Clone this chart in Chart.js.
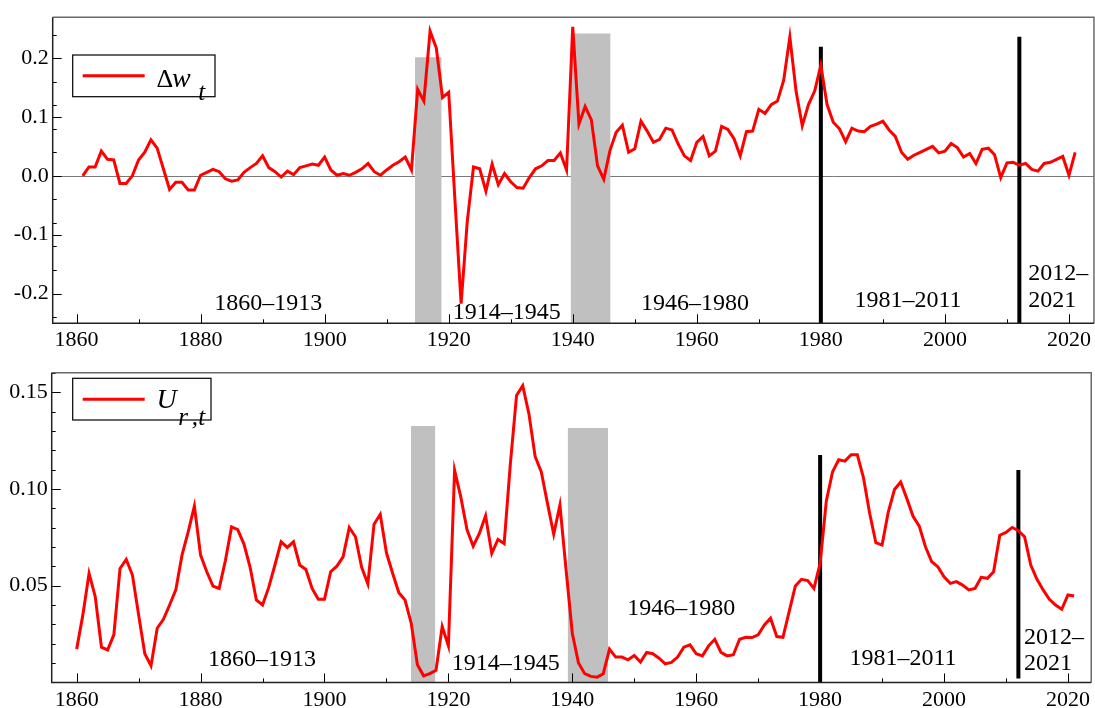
<!DOCTYPE html>
<html><head><meta charset="utf-8">
<script src="https://cdn.jsdelivr.net/npm/chart.js@4.4.1/dist/chart.umd.min.js"></script>
<style>html,body{margin:0;padding:0;background:#fff;}canvas{display:block;}</style>
</head><body>
<canvas id="cTop" width="1095" height="354"></canvas>
<canvas id="cBot" width="1095" height="354"></canvas>
<script>
// ---------------- DATA ----------------
const FIRST_YEAR_DW = 1861;
const dwValues = [
 0.000,0.015,0.015,0.042,0.028,0.027,-0.013,-0.013,0.000,0.027,   // 1861-1870
 0.040,0.061,0.047,0.012,-0.023,-0.011,-0.011,-0.024,-0.024,0.001, // 1871-1880
 0.006,0.011,0.007,-0.005,-0.009,-0.007,0.006,0.014,0.021,0.034,   // 1881-1890
 0.014,0.007,-0.002,0.008,0.002,0.014,0.017,0.020,0.018,0.032,     // 1891-1900
 0.010,0.001,0.004,0.001,0.006,0.012,0.021,0.007,0.001,0.010,      // 1901-1910
 0.018,0.024,0.032,0.010,0.147,0.127,0.246,0.217,0.133,0.142,      // 1911-1920
 -0.040,-0.217,-0.077,0.015,0.012,-0.026,0.020,-0.015,0.004,-0.010,// 1921-1930
 -0.020,-0.021,-0.003,0.012,0.017,0.026,0.026,0.039,0.010,0.253,   // 1931-1940
 0.088,0.118,0.095,0.017,-0.006,0.043,0.074,0.086,0.040,0.046,     // 1941-1950
 0.093,0.076,0.057,0.062,0.081,0.078,0.054,0.034,0.026,0.057,      // 1951-1960
 0.067,0.034,0.042,0.084,0.079,0.063,0.034,0.075,0.076,0.113,      // 1961-1970
 0.106,0.121,0.127,0.162,0.236,0.144,0.085,0.121,0.144,0.188,      // 1971-1980
 0.121,0.091,0.080,0.058,0.081,0.076,0.075,0.084,0.088,0.093,      // 1981-1990
 0.078,0.067,0.040,0.028,0.035,0.040,0.045,0.050,0.039,0.042,      // 1991-2000
 0.055,0.048,0.032,0.038,0.021,0.045,0.047,0.036,-0.003,0.022,     // 2001-2010
 0.023,0.018,0.021,0.011,0.008,0.021,0.023,0.028,0.033,0.001,      // 2011-2020
 0.040                                                             // 2021
];
const FIRST_YEAR_UR = 1860;
const urValues = [
 0.0172,0.0349,0.0564,0.0443,0.0182,0.0168,0.0246,0.0589,0.0636,0.0555, // 1860-1869
 0.0349,0.0148,0.0086,0.0280,0.0326,0.0400,0.0478,0.0658,0.0778,0.0911, // 1870-1879
 0.0658,0.0572,0.0498,0.0486,0.0629,0.0804,0.0790,0.0715,0.0595,0.0426, // 1880-1889
 0.0400,0.0491,0.0607,0.0727,0.0698,0.0727,0.0607,0.0584,0.0486,0.0430, // 1890-1899
 0.0430,0.0572,0.0601,0.0649,0.0801,0.0753,0.0595,0.0509,0.0818,0.0869, // 1900-1909
 0.0670,0.0564,0.0464,0.0426,0.0306,0.0091,0.0034,0.0045,0.0062,0.0289, // 1910-1919
 0.0189,0.1096,0.0959,0.0790,0.0704,0.0770,0.0861,0.0667,0.0739,0.0718, // 1920-1929
 0.1130,0.1483,0.1534,0.1388,0.1168,0.1088,0.0924,0.0766,0.0916,0.0581, // 1930-1939
 0.0254,0.0100,0.0045,0.0031,0.0027,0.0045,0.0172,0.0131,0.0131,0.0117, // 1940-1949
 0.0139,0.0105,0.0155,0.0148,0.0125,0.0096,0.0103,0.0131,0.0182,0.0194, // 1950-1959
 0.0148,0.0137,0.0189,0.0223,0.0155,0.0137,0.0143,0.0223,0.0233,0.0232, // 1960-1969
 0.0246,0.0297,0.0332,0.0237,0.0233,0.0366,0.0498,0.0533,0.0526,0.0486, // 1970-1979
 0.0615,0.0938,0.1088,0.1151,0.1144,0.1177,0.1177,0.1058,0.0873,0.0722, // 1980-1989
 0.0710,0.0881,0.0997,0.1036,0.0950,0.0859,0.0808,0.0701,0.0624,0.0598, // 1990-1999
 0.0546,0.0512,0.0521,0.0503,0.0478,0.0486,0.0543,0.0538,0.0572,0.0761, // 2000-2009
 0.0775,0.0801,0.0784,0.0753,0.0607,0.0533,0.0478,0.0430,0.0400,0.0378, // 2010-2019
 0.0452,0.0447                                                          // 2020-2021
];
const yearsDw = dwValues.map((_, i) => FIRST_YEAR_DW + i);
const yearsUr = urValues.map((_, i) => FIRST_YEAR_UR + i);

// grey war bands (start year, end year, height)
const shadeStartsDw = [1914.57, 1939.65];
const shadeEndsDw   = [1918.87, 1946.10];
const shadeTopsDw   = [0.2013, 0.2416];
const shadeStartsUr = [1913.95, 1939.25];
const shadeEndsUr   = [1917.90, 1945.78];
const shadeTopsUr   = [0.1326, 0.1315];
// black break lines
const breakYears     = [1980, 2012];
const breakTopsDw    = [0.2193, 0.2361];
const breakTopsUr    = [0.1176, 0.1098];
const breakBottomsUr = [0, 0.002];
// axis ranges
const dwRange = [-0.2505, 0.2695];
const urRange = [0, 0.1601];
const xRangeDw = [1856.16, 2024.03];
const xRangeUr = [1855.97, 2023.76];
// period labels
const periodLabels = ['1860\u20131913', '1914\u20131945', '1946\u20131980', '1981\u20132011', '2012\u2013', '2021'];
const periodAlign  = ['center', 'center', 'center', 'center', 'left', 'left'];
const periodPosDw = [[1890.92,-0.2169],[1929.35,-0.2329],[1959.71,-0.2169],[1994.05,-0.2114],[2013.44,-0.1666],[2013.44,-0.2114]];
const periodPosUr = [[1889.90,0.01184],[1929.24,0.00988],[1957.57,0.03831],[1993.37,0.01246],[2012.92,0.02296],[2012.92,0.00988]];

// ---------------- HELPERS ----------------
const SERIF = '"Liberation Serif", "Times New Roman", serif';
const RED = '#ff0000';
const GREY = '#c0c0c0';

function buildDatasets(label, years, values, sS, sE, sT, bTops, bBots, yMin) {
  const ds = [{
    label: label,
    data: years.map((x, i) => ({x: x, y: values[i]})),
    borderColor: RED, borderWidth: 3, pointRadius: 0, tension: 0, fill: false
  }];
  breakYears.forEach((yr, i) => {
    ds.push({
      label: 'break' + i,
      data: [{x: yr, y: bBots ? bBots[i] : yMin}, {x: yr, y: bTops[i]}],
      borderColor: '#000', borderWidth: 4, pointRadius: 0, fill: false, borderCapStyle: 'butt'
    });
  });
  sS.forEach((s, i) => {
    ds.push({
      label: 'shade' + i,
      data: [{x: s, y: sT[i]}, {x: sE[i], y: sT[i]}],
      borderWidth: 0, borderColor: 'rgba(0,0,0,0)', backgroundColor: GREY,
      pointRadius: 0, fill: 'start'
    });
  });
  return ds;
}

function decor(cfg) {
  return {
    id: 'decor' + cfg.name,
    beforeDatasetsDraw(chart) {
      if (!cfg.zeroLine) return;
      const {ctx, chartArea: a} = chart;
      const y = chart.scales.y;
      const py = Math.round(y.getPixelForValue(0)) + 0.5;
      ctx.save();
      ctx.strokeStyle = '#7a7a7a'; ctx.lineWidth = 1;
      ctx.beginPath(); ctx.moveTo(a.left, py); ctx.lineTo(a.right, py); ctx.stroke();
      ctx.restore();
    },
    afterDatasetsDraw(chart) {
      const {ctx, chartArea: a} = chart;
      const x = chart.scales.x, y = chart.scales.y;
      ctx.save();
      // period labels
      ctx.fillStyle = '#000';
      ctx.font = '24px ' + SERIF;
      ctx.textBaseline = 'middle';
      periodLabels.forEach((t, i) => {
        ctx.textAlign = periodAlign[i];
        ctx.fillText(t, x.getPixelForValue(cfg.pos[i][0]), y.getPixelForValue(cfg.pos[i][1]));
      });
      // legend box
      const L = cfg.legend;
      ctx.fillStyle = '#fff';
      ctx.fillRect(L.x, L.y, L.w, L.h);
      ctx.strokeStyle = '#000'; ctx.lineWidth = 1.2;
      ctx.strokeRect(L.x, L.y, L.w, L.h);
      ctx.strokeStyle = RED; ctx.lineWidth = 3;
      ctx.beginPath(); ctx.moveTo(L.x + 10, L.y + L.lineY); ctx.lineTo(L.x + 72, L.y + L.lineY); ctx.stroke();
      ctx.fillStyle = '#000'; ctx.textAlign = 'left'; ctx.textBaseline = 'alphabetic';
      L.parts.forEach(p => {
        ctx.font = p.font + ' ' + SERIF;
        ctx.fillText(p.t, p.x, p.y);
      });
      // inward ticks
      ctx.strokeStyle = '#000'; ctx.lineWidth = 1;
      ctx.beginPath();
      x.ticks.forEach(t => {
        const px = Math.round(x.getPixelForValue(t.value)) + 0.5;
        const len = (Math.round(t.value) % 20 === 0) ? 9 : 4;
        ctx.moveTo(px, a.bottom); ctx.lineTo(px, a.bottom - len);
      });
      y.ticks.forEach(t => {
        if (Math.abs(t.value - y.min) < 1e-9) return;
        const py = Math.round(y.getPixelForValue(t.value)) + 0.5;
        ctx.moveTo(a.left, py); ctx.lineTo(a.left + 9, py);
      });
      for (let k = Math.ceil(y.min / cfg.yMinor - 1e-9); k * cfg.yMinor <= y.max + 1e-9; k++) {
        const v = k * cfg.yMinor;
        if (Math.abs(v - y.min) < 1e-9) continue;
        const py = Math.round(y.getPixelForValue(v)) + 0.5;
        ctx.moveTo(a.left, py); ctx.lineTo(a.left + 4, py);
      }
      ctx.stroke();
      // frame
      ctx.lineWidth = 1.5;
      ctx.strokeStyle = '#6a6a6a';
      ctx.beginPath();
      ctx.moveTo(a.left, a.top); ctx.lineTo(a.right, a.top); ctx.lineTo(a.right, a.bottom);
      ctx.stroke();
      ctx.strokeStyle = '#222';
      ctx.beginPath();
      ctx.moveTo(a.left, a.top); ctx.lineTo(a.left, a.bottom); ctx.lineTo(a.right, a.bottom);
      ctx.stroke();
      ctx.restore();
    }
  };
}

function makeOptions(xr, yr, yStep, yDigits, pad, yWidth, xHeight, xPad) {
  return {
    responsive: false, animation: false,
    layout: {padding: pad},
    plugins: {legend: {display: false}, tooltip: {enabled: false}},
    scales: {
      x: {
        type: 'linear', min: xr[0], max: xr[1],
        afterFit: s => { s.height = xHeight; },
        grid: {display: false, drawTicks: false}, border: {display: false},
        ticks: {
          stepSize: 10, includeBounds: false, autoSkip: false, maxRotation: 0, minRotation: 0,
          maxTicksLimit: 1000, padding: xPad, color: '#000',
          font: {family: SERIF, size: 22},
          callback: v => (Math.round(v) % 20 === 0 ? String(Math.round(v)) : '')
        }
      },
      y: {
        type: 'linear', min: yr[0], max: yr[1],
        afterFit: s => { s.width = yWidth; },
        grid: {display: false, drawTicks: false}, border: {display: false},
        ticks: {
          stepSize: yStep, includeBounds: false, maxTicksLimit: 1000, padding: 4, color: '#000',
          font: {family: SERIF, size: 22},
          callback: v => (Math.abs(v - yr[0]) < 1e-9 && yr[0] === 0) ? '' :
            (Math.abs(v) < 1e-9 ? (0).toFixed(yDigits) : Number(v).toFixed(yDigits))
        }
      }
    }
  };
}

// ---------------- TOP CHART ----------------
new Chart(document.getElementById('cTop'), {
  type: 'line',
  data: {datasets: buildDatasets('\u0394w_t', yearsDw, dwValues, shadeStartsDw, shadeEndsDw, shadeTopsDw, breakTopsDw, null, dwRange[0])},
  options: makeOptions(xRangeDw, dwRange, 0.1, 1, {top: 13.3, right: 1, left: 0, bottom: 0}, 52.7, 30.7, 4),
  plugins: [decor({
    name: 'Top', zeroLine: true, yMinor: 0.04, pos: periodPosDw,
    legend: {x: 72.7, y: 55, w: 142.3, h: 41.7, lineY: 20.7, parts: [
      {t: '\u0394', font: '26px', x: 156.5, y: 86.7},
      {t: 'w', font: 'italic 28px', x: 172, y: 86.7},
      {t: 't', font: 'italic 25px', x: 198.3, y: 100}
    ]}
  })]
});

// ---------------- BOTTOM CHART ----------------
new Chart(document.getElementById('cBot'), {
  type: 'line',
  data: {datasets: buildDatasets('U_r,t', yearsUr, urValues, shadeStartsUr, shadeEndsUr, shadeTopsUr, breakTopsUr, breakBottomsUr, urRange[0])},
  options: makeOptions(xRangeUr, urRange, 0.05, 2, {top: 18.7, right: 2.7, left: 0, bottom: 0}, 51.7, 25.6, 5),
  plugins: [decor({
    name: 'Bot', zeroLine: false, yMinor: 0.01, pos: periodPosUr,
    legend: {x: 72.7, y: 24.3, w: 138.3, h: 41.7, lineY: 21, parts: [
      {t: 'U', font: 'italic 28px', x: 156.5, y: 54.3},
      {t: 'r', font: 'italic 25px', x: 178.3, y: 71},
      {t: ',', font: 'italic 25px', x: 191.7, y: 71},
      {t: 't', font: 'italic 25px', x: 198.3, y: 71}
    ]}
  })]
});
</script>
</body></html>
